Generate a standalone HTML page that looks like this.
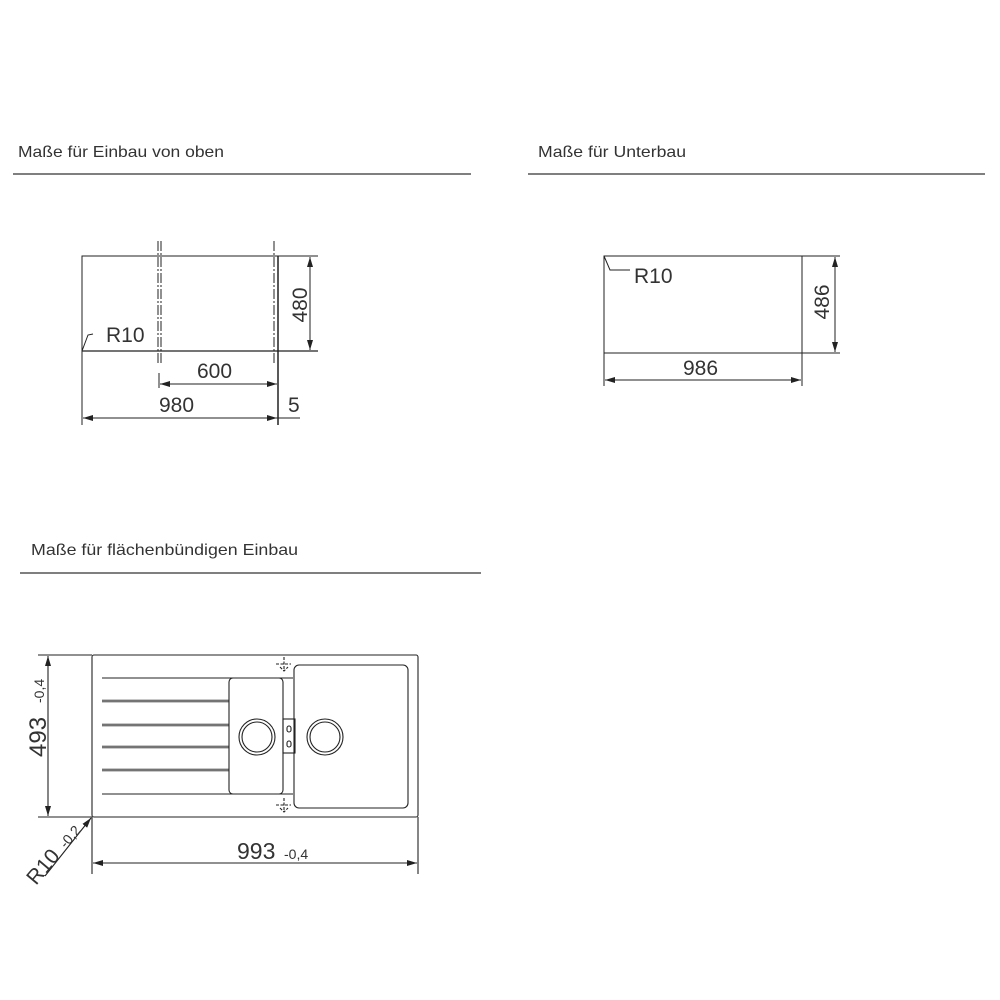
<!DOCTYPE html>
<html><head><meta charset="utf-8"><style>html,body{margin:0;background:#fff}svg{display:block}</style></head>
<body>
<svg width="1000" height="1000" viewBox="0 0 1000 1000" xmlns="http://www.w3.org/2000/svg" font-family="Liberation Sans, sans-serif" fill="none" stroke="#222">
<defs>
<marker id="a" viewBox="0 0 10 6" refX="10" refY="3" markerWidth="10" markerHeight="6" orient="auto-start-reverse" markerUnits="userSpaceOnUse"><path d="M0,0 L10,3 L0,6z" fill="#222" stroke="none"/></marker>
</defs>
<g fill="#333" stroke="none" font-size="16">
<text x="18" y="157" textLength="206" lengthAdjust="spacingAndGlyphs">Maße für Einbau von oben</text>
<text x="538" y="157" textLength="148" lengthAdjust="spacingAndGlyphs">Maße für Unterbau</text>
<text x="31" y="555" textLength="267" lengthAdjust="spacingAndGlyphs">Maße für flächenbündigen Einbau</text>
</g>
<g stroke="#333" stroke-width="1.3">
<line x1="13" y1="174" x2="471" y2="174"/>
<line x1="528" y1="174" x2="985" y2="174"/>
<line x1="20" y1="573" x2="481" y2="573"/>
</g>
<!-- Diagram 1 -->
<g stroke-width="1">
<path d="M82,351 L82,256 L278,256"/>
<line x1="82" y1="351" x2="318" y2="351" stroke-width="1.3"/>
<line x1="278" y1="256" x2="278" y2="425" stroke-width="1.5"/>
<line x1="278" y1="256" x2="318" y2="256"/>
<line x1="158" y1="241" x2="158" y2="363" stroke-dasharray="10,2,2,2"/>
<line x1="161" y1="241" x2="161" y2="363" stroke-dasharray="10,2,2,2"/>
<line x1="274" y1="241" x2="274" y2="363" stroke-dasharray="10,2,2,2"/>
<line x1="310" y1="257" x2="310" y2="350" marker-start="url(#a)" marker-end="url(#a)"/>
<line x1="159" y1="373" x2="159" y2="388"/>
<line x1="160" y1="384" x2="277" y2="384" marker-start="url(#a)" marker-end="url(#a)"/>
<line x1="82" y1="351" x2="82" y2="425"/>
<line x1="83" y1="418" x2="277" y2="418" marker-start="url(#a)" marker-end="url(#a)"/>
<line x1="268" y1="418" x2="300" y2="418"/>
<path d="M82,351 L88,335 L93,334"/>
</g>
<g fill="#333" stroke="none" font-size="21">
<text x="106" y="342">R10</text>
<text x="197" y="378">600</text>
<text x="159" y="412">980</text>
<text x="288" y="412">5</text>
<text transform="translate(307,305) rotate(-90)" text-anchor="middle">480</text>
</g>
<!-- Diagram 2 -->
<g stroke-width="1">
<rect x="604" y="256" width="198" height="97"/>
<line x1="802" y1="256" x2="840" y2="256"/>
<line x1="802" y1="353" x2="840" y2="353"/>
<line x1="835" y1="257" x2="835" y2="352" marker-start="url(#a)" marker-end="url(#a)"/>
<line x1="604" y1="353" x2="604" y2="386"/>
<line x1="802" y1="353" x2="802" y2="386"/>
<line x1="605" y1="380" x2="801" y2="380" marker-start="url(#a)" marker-end="url(#a)"/>
<path d="M604,256 L610,270 L630,270"/>
</g>
<g fill="#333" stroke="none" font-size="21">
<text x="634" y="283">R10</text>
<text x="683" y="375">986</text>
<text transform="translate(829,302) rotate(-90)" text-anchor="middle">486</text>
</g>
<!-- Diagram 3 -->
<g stroke-width="1.1">
<rect x="92" y="655" width="326" height="162" rx="2"/>
<line x1="38" y1="655" x2="92" y2="655"/>
<line x1="38" y1="817" x2="92" y2="817"/>
<line x1="48" y1="656" x2="48" y2="816" marker-start="url(#a)" marker-end="url(#a)"/>
<line x1="92" y1="817" x2="92" y2="874"/>
<line x1="418" y1="817" x2="418" y2="874"/>
<line x1="93" y1="863" x2="417" y2="863" marker-start="url(#a)" marker-end="url(#a)"/>
<line x1="45" y1="876" x2="91" y2="818" marker-end="url(#a)"/>
<line x1="102" y1="678" x2="293" y2="678"/>
<line x1="102" y1="794" x2="293" y2="794"/>
<g stroke-width="2.5"><line x1="102" y1="701" x2="229" y2="701"/><line x1="102" y1="725" x2="229" y2="725"/><line x1="102" y1="747" x2="229" y2="747"/><line x1="102" y1="770" x2="229" y2="770"/></g>
<g stroke="#fff" stroke-width="0.8"><line x1="102" y1="701" x2="229" y2="701"/><line x1="102" y1="725" x2="229" y2="725"/><line x1="102" y1="747" x2="229" y2="747"/><line x1="102" y1="770" x2="229" y2="770"/></g>
<rect x="229" y="678" width="54" height="116" rx="4"/>
<rect x="294" y="665" width="114" height="143" rx="5"/>
<circle cx="257" cy="737" r="18"/><circle cx="257" cy="737" r="15"/>
<circle cx="325" cy="737" r="18"/><circle cx="325" cy="737" r="15"/>
<rect x="283" y="719" width="12" height="34"/>
<rect x="287" y="726" width="4" height="6" rx="2"/><rect x="287" y="741" width="4" height="6" rx="2"/>
<path d="M276,664 L291,664 M284,657 L284,671 M280,667 L284,671 L288,667" stroke-dasharray="3,1.5"/>
<path d="M276,805 L291,805 M284,798 L284,812 M280,808 L284,812 L288,808" stroke-dasharray="3,1.5"/>
</g>
<g fill="#333" stroke="none">
<text transform="translate(46,757) rotate(-90)" font-size="24">493</text>
<text transform="translate(44,703) rotate(-90)" font-size="14">-0,4</text>
<text transform="translate(36,886) rotate(-50)" font-size="21">R10</text>
<text transform="translate(66,849) rotate(-50)" font-size="14">-0,2</text>
<text x="237" y="859" font-size="23">993</text>
<text x="284" y="859" font-size="14">-0,4</text>
</g>
</svg>
</body></html>
